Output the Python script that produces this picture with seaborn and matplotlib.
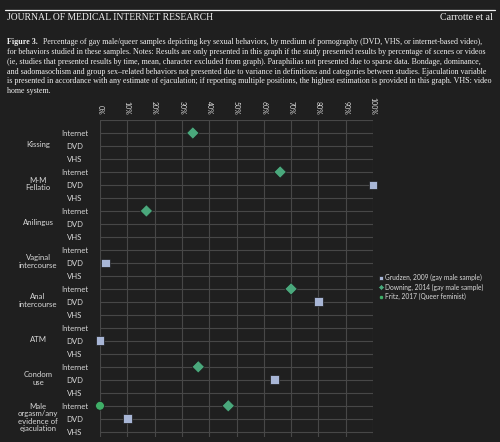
import pandas as pd
import seaborn as sns
from matplotlib import pyplot as plt

BG = '#1f1f1f'
GRID = '#474747'
FG = '#d9d9d9'

behaviors = ['Kissing', 'M-M\nFellatio', 'Anilingus', 'Vaginal\nintercourse',
             'Anal\nintercourse', 'ATM', 'Condom\nuse',
             'Male\norgasm/any\nevidence of\nejaculation']
media = ['Internet', 'DVD', 'VHS']
studies = ['Grudzen, 2009 (gay male sample)', 'Downing, 2014 (gay male sample)',
           'Fritz, 2017 (Queer feminist)']
x_ticks = [0, 10, 20, 30, 40, 50, 60, 70, 80, 90, 100]

# one entry per plotted point
point_study = [0, 0, 0, 0, 0, 0,
               1, 1, 1, 1, 1, 1,
               2]
point_behavior = [1, 3, 4, 5, 6, 7,
                  0, 1, 2, 4, 6, 7,
                  7]
point_medium = [1, 1, 1, 1, 1, 1,
                0, 0, 0, 0, 0, 0,
                0]
point_value = [100, 2, 80, 0, 64, 10,
               34, 66, 17, 70, 36, 47,
               0]

data = pd.DataFrame({
    'Study': [studies[i] for i in point_study],
    'Row': [b * len(media) + m for b, m in zip(point_behavior, point_medium)],
    'Percent': point_value,
})

sns.set_theme(style='white', rc={'axes.facecolor': BG, 'figure.facecolor': BG,
                                 'savefig.facecolor': BG, 'text.color': FG,
                                 'xtick.color': FG, 'ytick.color': FG})
plt.rcParams['font.family'] = ['Lato', 'DejaVu Sans']

fig = plt.figure(figsize=(5, 4.42), dpi=100)

# page header and caption
fig.add_artist(plt.Line2D([0.01, 0.99], [1 - 10 / 442, 1 - 10 / 442], color='#f0f0f0', lw=0.9))
fig.text(7 / 500, 1 - 18 / 442, 'JOURNAL OF MEDICAL INTERNET RESEARCH', family='Liberation Serif',
         fontsize=6.9, color='#f0f0f0', va='center', ha='left')
fig.text(493 / 500, 1 - 18 / 442, 'Carrotte et al', family='Liberation Serif',
         fontsize=7.2, color='#f0f0f0', va='center', ha='right')

caption_lines = [
    'Percentage of gay male/queer samples depicting key sexual behaviors, by medium of pornography (DVD, VHS, or internet-based video),',
    'for behaviors studied in these samples. Notes: Results are only presented in this graph if the study presented results by percentage of scenes or videos',
    '(ie, studies that presented results by time, mean, character excluded from graph). Paraphilias not presented due to sparse data. Bondage, dominance,',
    'and sadomasochism and group sex\u2013related behaviors not presented due to variance in definitions and categories between studies. Ejaculation variable',
    'is presented in accordance with any estimate of ejaculation; if reporting multiple positions, the highest estimation is provided in this graph. VHS: video',
    'home system.',
]
cap_size = 5.8
bold = fig.text(7 / 500, 1 - 42 / 442, 'Figure 3.', family='Liberation Serif', weight='bold',
                fontsize=cap_size, color='#f0f0f0', va='center', ha='left')
renderer = fig.canvas.get_renderer()
bold_w = bold.get_window_extent(renderer).width
for i, line in enumerate(caption_lines):
    x0 = 7 / 500 + ((bold_w + 5) / 500 if i == 0 else 0)
    fig.text(x0, 1 - (42 + i * 9.85) / 442, line, family='Liberation Serif',
             fontsize=cap_size, color='#f0f0f0', va='center', ha='left')

# chart
ax = fig.add_axes([100 / 500, 5 / 442, 273 / 500, 317 / 442])
sns.scatterplot(data=data, x='Percent', y='Row', hue='Study', style='Study',
                hue_order=studies, style_order=studies,
                palette=['#a8b6d6', '#4aa87c', '#3fae67'],
                markers=['s', 'D', 'o'], s=40, edgecolor='#1a1a1a', linewidth=0.5,
                zorder=5, clip_on=False, ax=ax)

n_rows = len(behaviors) * len(media)
ax.set_xlim(0, 100)
ax.set_ylim(n_rows - 1 + 0.4, -1)
ax.set_xticks(x_ticks)
ax.set_xticklabels([f'{v}%' for v in x_ticks], rotation=-90, fontsize=5)
ax.xaxis.tick_top()
ax.set_yticks(range(n_rows))
ax.set_yticklabels(media * len(behaviors), fontsize=5.6)
for lbl in ax.get_yticklabels():
    lbl.set_horizontalalignment('center')
ax.tick_params(axis='y', length=0, pad=18)
ax.tick_params(axis='x', length=0, pad=4)
ax.set_xlabel('')
ax.set_ylabel('')
for side in ax.spines.values():
    side.set_visible(False)
ax.grid(True, color=GRID, lw=0.8)
ax.axhline(-1, color=GRID, lw=0.8)
ax.set_axisbelow(True)

for g, name in enumerate(behaviors):
    ax.text(-0.227, g * len(media) + 0.9, name, transform=ax.get_yaxis_transform(),
            fontsize=5.6, color=FG, ha='center', va='center', linespacing=1.05)

leg = ax.legend(loc='upper left', bbox_to_anchor=(376 / 500, 1 - 270.5 / 442),
                bbox_transform=fig.transFigure, frameon=False, fontsize=4.8,
                handlelength=0.6, handletextpad=0.3, labelspacing=0.35,
                markerscale=0.5, borderpad=0)
for t in leg.get_texts():
    t.set_color(FG)

fig.savefig('out.png', dpi=100, facecolor=BG)
plt.close()
